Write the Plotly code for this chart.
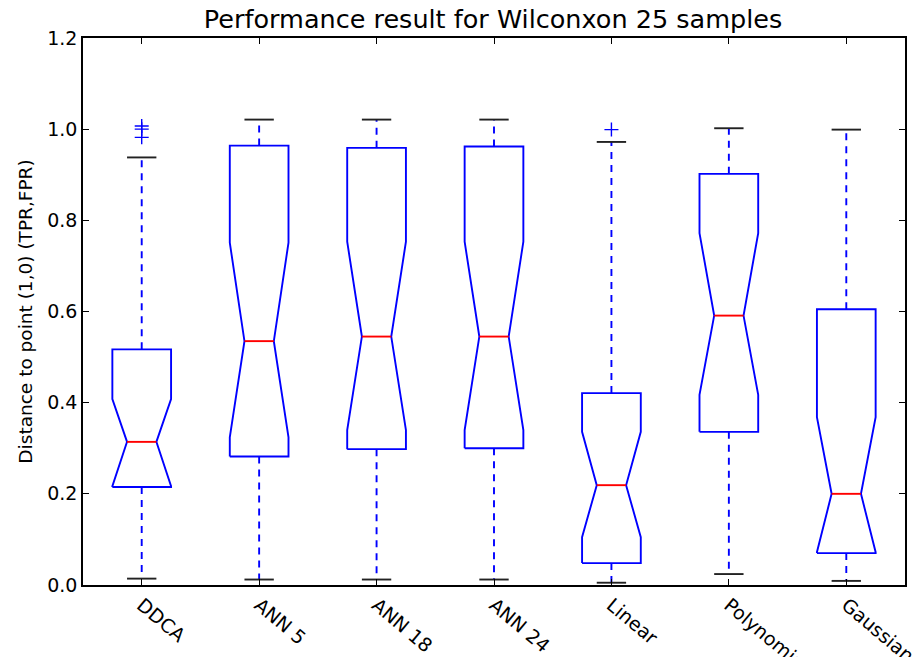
import plotly.graph_objects as go

# Summary statistics for each classifier (distance to the ideal ROC point)
categories = ["DDCA", "ANN 5", "ANN 18", "ANN 24", "Linear", "Polynomial", "Gaussian"]
whisker_low = [0.014, 0.012, 0.012, 0.012, 0.005, 0.024, 0.009]
q1 = [0.215, 0.282, 0.298, 0.300, 0.048, 0.336, 0.070]
notch_low = [0.217, 0.324, 0.340, 0.340, 0.105, 0.417, 0.072]
median = [0.314, 0.535, 0.545, 0.545, 0.219, 0.591, 0.200]
notch_high = [0.408, 0.751, 0.753, 0.753, 0.336, 0.772, 0.368]
q3 = [0.517, 0.964, 0.959, 0.962, 0.421, 0.902, 0.605]
whisker_high = [0.938, 1.021, 1.021, 1.021, 0.972, 1.002, 0.999]
outliers = [[1.007, 1.000, 0.982], [], [], [], [0.999], [], []]

positions = list(range(1, len(categories) + 1))
BOX_HALF = 0.25      # half of the box width
NOTCH_HALF = 0.125   # half width at the median waist
CAP_HALF = 0.125     # half width of the whisker caps

BLUE = "#0000ff"
RED = "#ff0000"
BLACK = "#000000"
LW = 1.9

fig = go.Figure()

for i, p in enumerate(positions):
    l, r = p - BOX_HALF, p + BOX_HALF
    nl, nr = p - NOTCH_HALF, p + NOTCH_HALF
    # notched box outline
    fig.add_trace(go.Scatter(
        x=[l, l, nl, l, l, r, r, nr, r, r, l],
        y=[q1[i], notch_low[i], median[i], notch_high[i], q3[i],
           q3[i], notch_high[i], median[i], notch_low[i], q1[i], q1[i]],
        mode="lines", line=dict(color=BLUE, width=LW),
        hoverinfo="skip", showlegend=False))
    # median
    fig.add_trace(go.Scatter(
        x=[nl, nr], y=[median[i], median[i]],
        mode="lines", line=dict(color=RED, width=LW),
        hoverinfo="skip", showlegend=False))
    # dashed whiskers
    for start, end in ((q1[i], whisker_low[i]), (q3[i], whisker_high[i])):
        fig.add_trace(go.Scatter(
            x=[p, p], y=[start, end],
            mode="lines", line=dict(color=BLUE, width=LW, dash="7px,6px"),
            hoverinfo="skip", showlegend=False))
    # caps
    for v in (whisker_low[i], whisker_high[i]):
        fig.add_trace(go.Scatter(
            x=[p - CAP_HALF, p + CAP_HALF], y=[v, v],
            mode="lines", line=dict(color="#222222", width=LW),
            hoverinfo="skip", showlegend=False))
    # fliers
    if outliers[i]:
        fig.add_trace(go.Scatter(
            x=[p] * len(outliers[i]), y=outliers[i], mode="markers",
            marker=dict(symbol="cross-thin", size=10,
                        line=dict(color=BLUE, width=1.4)),
            hoverinfo="skip", showlegend=False))

font_family = "DejaVu Sans"

fig.update_layout(
    width=921, height=657,
    paper_bgcolor="white", plot_bgcolor="white",
    margin=dict(l=83, r=16, t=38, b=72),
    font=dict(family=font_family, color=BLACK),
    title=dict(text="Performance result for Wilconxon 25 samples",
               x=0.5353, xanchor="center", y=0.971, yanchor="middle",
               font=dict(size=25.5, family=font_family)),
    xaxis=dict(range=[0.5, 7.5], tickvals=positions, ticktext=categories,
               tickangle=40, ticks="inside", ticklen=6, tickcolor=BLACK,
               showline=True, linecolor=BLACK, linewidth=1.6, mirror="allticks",
               showgrid=False, zeroline=False, automargin=False,
               tickfont=dict(size=19)),
    yaxis=dict(range=[0, 1.2], tickvals=[0, 0.2, 0.4, 0.6, 0.8, 1.0, 1.2],
               tickformat=".1f", ticks="inside", ticklen=6, tickcolor=BLACK,
               showline=True, linecolor=BLACK, linewidth=1.6, mirror="allticks",
               showgrid=False, zeroline=False, automargin=False,
               tickfont=dict(size=19),
               title=dict(text="Distance to point (1,0) (TPR,FPR)",
                          font=dict(size=18.5), standoff=10)),
)

fig.write_html("out.html")
